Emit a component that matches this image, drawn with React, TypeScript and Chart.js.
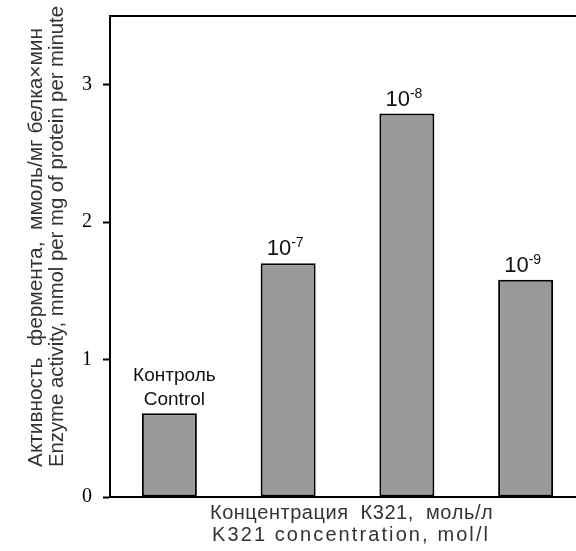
import React, { useEffect, useRef } from "react";
import { Chart, registerables } from "chart.js";

Chart.register(...registerables);

const categories = ["Контроль", "10^-7", "10^-8", "10^-9"];
const activity = [0.61, 1.7, 2.79, 1.58];
const barTopLines = [["Контроль", "Control"], ["10"], ["10"], ["10"]];
const barExponents = ["", "-7", "-8", "-9"];
const yTickValues = [0, 1, 2, 3];
const yMax = 3.5;
const yTitleLines = [
  "Активность  фермента,  ммоль/мг белка×мин",
  "Enzyme activity, mmol per mg of protein per minute",
];
const xTitleLines = ["Концентрация  К321,  моль/л", "K321 concentration, mol/l"];

const SANS = "'Liberation Sans', Arial, sans-serif";
const SERIF = "'Liberation Serif', 'Times New Roman', serif";

function fitText(ctx: any, text: string, x: number, y: number, width: number) {
  const w = ctx.measureText(text).width;
  ctx.save();
  ctx.translate(x, y);
  ctx.scale(width / w, 1);
  ctx.fillText(text, 0, 0);
  ctx.restore();
}

function spacedText(ctx: any, text: string, x: number, y: number, width: number) {
  const w = ctx.measureText(text).width;
  const n = Array.from(text).length;
  const extra = n > 1 ? (width - w) / (n - 1) : 0;
  let cx = x;
  for (const ch of Array.from(text)) {
    ctx.fillText(ch, cx, y);
    cx += ctx.measureText(ch).width + extra;
  }
}

const decorPlugin = {
  id: "decor",
  afterDatasetsDraw(chart: any) {
    const ctx = chart.ctx;
    const area = chart.chartArea;
    const meta = chart.getDatasetMeta(0);
    ctx.save();
    ctx.strokeStyle = "#000";
    ctx.lineWidth = 2;
    ctx.beginPath();
    ctx.moveTo(area.left, area.top);
    ctx.lineTo(area.right, area.top);
    ctx.lineTo(area.right, area.bottom);
    ctx.stroke();

    ctx.fillStyle = "#111";
    meta.data.forEach((bar: any, i: number) => {
      const lines = barTopLines[i];
      const exp = barExponents[i];
      const y = bar.y;
      if (!exp) {
        const x = bar.x + 5;
        ctx.font = `19px ${SANS}`;
        ctx.textAlign = "center";
        ctx.textBaseline = "alphabetic";
        const n = lines.length;
        lines.forEach((t: string, k: number) => {
          ctx.fillText(t, x, y - 8 - (n - 1 - k) * 24);
        });
      } else {
        const x = bar.x - 3;
        ctx.font = `22px ${SANS}`;
        const w1 = ctx.measureText(lines[0]).width;
        ctx.font = `14px ${SANS}`;
        const w2 = ctx.measureText(exp).width;
        const start = x - (w1 + w2) / 2;
        ctx.textAlign = "left";
        ctx.textBaseline = "alphabetic";
        ctx.font = `22px ${SANS}`;
        ctx.fillText(lines[0], start, y - 8);
        ctx.font = `14px ${SANS}`;
        ctx.fillText(exp, start + w1, y - 16);
      }
    });

    ctx.fillStyle = "#333";
    ctx.font = `20px ${SANS}`;
    ctx.textBaseline = "middle";
    ctx.textAlign = "left";
    const yLineX = [36, 57];
    const yLineLen = [439, 461];
    yTitleLines.forEach((t, k) => {
      ctx.save();
      ctx.translate(yLineX[k], 467);
      ctx.rotate(-Math.PI / 2);
      fitText(ctx, t, 0, 0, yLineLen[k]);
      ctx.restore();
    });
    ctx.font = `20px ${SANS}`;
    ctx.textBaseline = "alphabetic";
    const xStarts = [210, 212];
    const xLens = [282, 276];
    const xBase = [519, 541];
    xTitleLines.forEach((t, k) => {
      spacedText(ctx, t, xStarts[k], xBase[k], xLens[k]);
    });
    ctx.restore();
  },
};

export default function App() {
  const ref = useRef<HTMLCanvasElement | null>(null);
  useEffect(() => {
    if (!ref.current) return;
    const chart = new Chart(ref.current, {
      type: "bar",
      data: {
        labels: categories,
        datasets: [
          {
            data: activity,
            backgroundColor: "#999999",
            borderColor: "#000000",
            borderWidth: 2,
            borderSkipped: false,
            barPercentage: 0.463,
            categoryPercentage: 1,
          },
        ],
      },
      options: {
        animation: false,
        responsive: true,
        maintainAspectRatio: false,
        layout: { padding: { top: 16, right: 15, left: 0, bottom: 0 } },
        plugins: {
          legend: { display: false },
          tooltip: { enabled: false },
          title: { display: false },
        },
        scales: {
          x: {
            type: "category",
            offset: true,
            grid: { display: false },
            ticks: { display: false },
            border: { display: true, color: "#000", width: 2 },
            afterFit: (s: any) => {
              s.height = 54;
              s.paddingLeft = 0;
              s.paddingRight = 0;
            },
          },
          y: {
            min: 0,
            max: yMax,
            afterBuildTicks: (s: any) => {
              s.ticks = yTickValues.map((v) => ({ value: v }));
            },
            grid: {
              drawOnChartArea: false,
              drawTicks: true,
              tickLength: 7,
              tickColor: "#000",
              tickWidth: 2,
            },
            border: { display: true, color: "#000", width: 2 },
            ticks: {
              color: "#000",
              padding: 11,
              font: { family: SERIF, size: 20 },
            },
            afterFit: (s: any) => {
              s.width = 110;
              s.paddingTop = 0;
              s.paddingBottom = 0;
            },
          },
        },
      },
      plugins: [decorPlugin],
    });
    return () => chart.destroy();
  }, []);
  return (
    <div
      style={{
        position: "absolute",
        left: 0,
        top: 0,
        width: 576,
        height: 551,
        overflow: "hidden",
        background: "#fff",
      }}
    >
      <div style={{ position: "relative", width: 600, height: 551 }}>
        <canvas ref={ref} />
      </div>
    </div>
  );
}
